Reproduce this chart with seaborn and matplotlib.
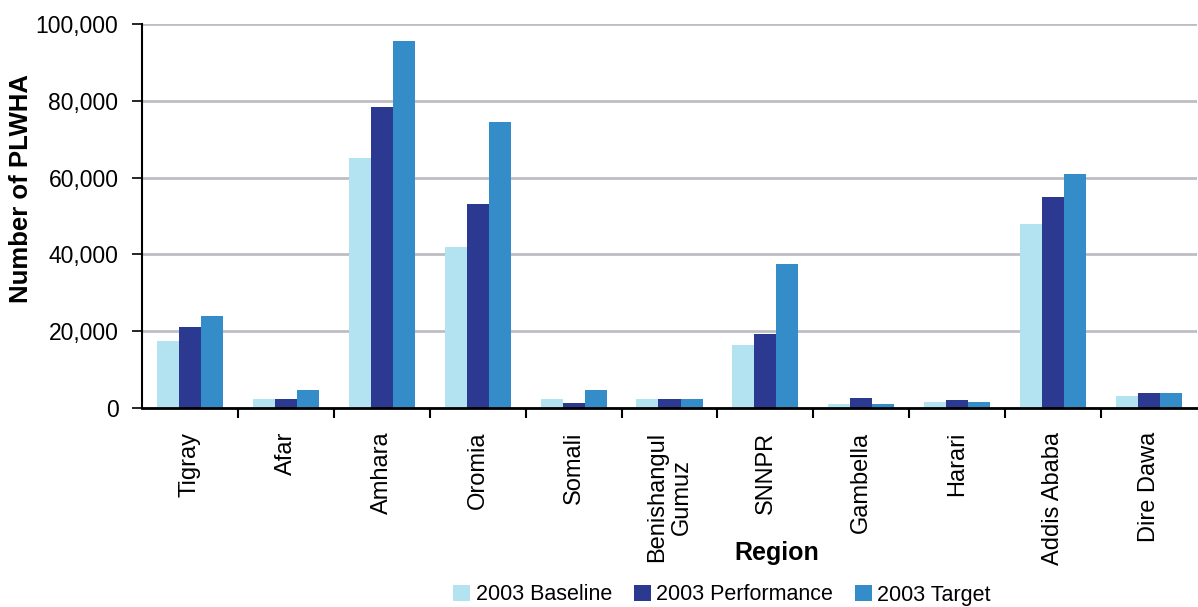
import numpy as np
import pandas as pd
import matplotlib
matplotlib.use("Agg")
import matplotlib.pyplot as plt
import seaborn as sns
from matplotlib.ticker import FuncFormatter, FixedLocator

# data
regions = ["Tigray", "Afar", "Amhara", "Oromia", "Somali", "Benishangul\nGumuz",
           "SNNPR", "Gambella", "Harari", "Addis Ababa", "Dire Dawa"]
baseline = [17500, 2300, 65000, 42000, 2300, 2300, 16300, 1000, 1600, 48000, 3200]
performance = [21000, 2300, 78500, 53000, 1200, 2300, 19300, 2700, 2200, 55000, 3800]
target = [24000, 4700, 95500, 74500, 4600, 2300, 37500, 1000, 1600, 61000, 3800]
series = ["2003 Baseline", "2003 Performance", "2003 Target"]
colors = ["#B3E3F1", "#2B3990", "#348DC8"]

df = pd.DataFrame({"Region": regions * 3,
                   "value": baseline + performance + target,
                   "series": np.repeat(series, len(regions))})

sns.set_style("white")
plt.rcParams["font.family"] = ["Liberation Sans", "DejaVu Sans"]
plt.rcParams["text.color"] = "black"
plt.rcParams["axes.labelcolor"] = "black"
plt.rcParams["xtick.color"] = "black"
plt.rcParams["ytick.color"] = "black"

fig = plt.figure(figsize=(11.98, 6.07), dpi=100)
ax = fig.add_axes([142 / 1198, 1 - 408 / 607, (1197 - 142) / 1198, (408 - 24) / 607])

sns.barplot(data=df, x="Region", y="value", hue="series", palette=colors,
            width=0.69, saturation=1, linewidth=0, ax=ax)

ax.set_ylim(0, 100000)
ax.set_xlim(-0.5, len(regions) - 0.5)
ax.yaxis.set_major_formatter(FuncFormatter(lambda v, p: f"{int(v):,}"))
ax.set_yticks(range(0, 100001, 20000))
ax.yaxis.grid(True, color="#BDBDC4", linewidth=2)
ax.set_axisbelow(True)

for s in ["top", "right"]:
    ax.spines[s].set_visible(False)
ax.spines["left"].set_color("black")
ax.spines["bottom"].set_color("black")
ax.spines["left"].set_linewidth(1.5)
ax.spines["bottom"].set_linewidth(2)
ax.spines["bottom"].set_zorder(5)

ax.tick_params(axis="y", which="major", direction="out", length=7, width=1.2,
               labelsize=16.5, left=True, pad=10)
ax.tick_params(axis="x", which="major", length=0, labelsize=17, rotation=90, pad=17)
ax.xaxis.set_minor_locator(FixedLocator(np.arange(0.5, len(regions) - 0.5, 1)))
ax.tick_params(axis="x", which="minor", direction="out", length=7, width=1.5,
               bottom=True)
for lbl in ax.get_xticklabels():
    lbl.set_verticalalignment("top")
    lbl.set_horizontalalignment("center")
    lbl.set_multialignment("center")

ax.set_ylabel("Number of PLWHA", fontsize=18.5, fontweight="bold", va="center")
ax.yaxis.set_label_coords((21 - 142) / 1055, (408 - 188) / 384)
ax.set_xlabel("Region", fontsize=18, fontweight="bold", va="center")
ax.xaxis.set_label_coords(0.602, (408 - 553) / 384)

ax.legend(title=None, loc="center", bbox_to_anchor=((722 - 142) / 1055, (408 - 595) / 384),
          ncol=3, frameon=False, fontsize=15.5, handlelength=0.8, handleheight=0.8,
          handletextpad=0.25, columnspacing=1.0)

fig.savefig("out.png", dpi=100)
